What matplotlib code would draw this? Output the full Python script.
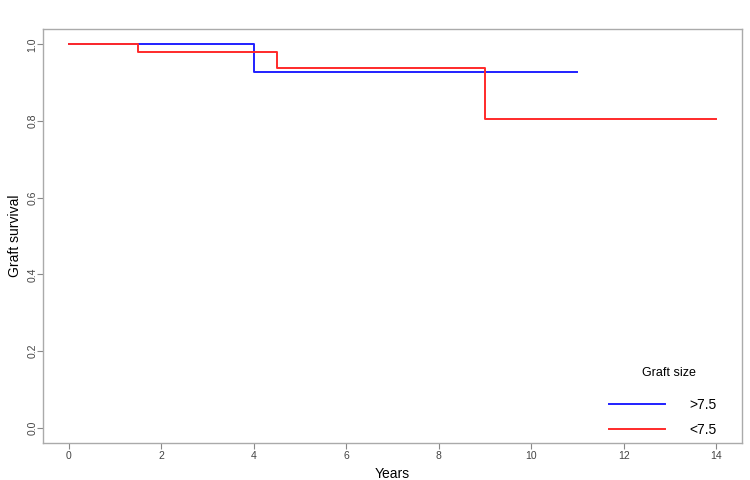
import matplotlib
matplotlib.use("Agg")
import matplotlib.pyplot as plt

plt.rcParams['font.family'] = ['Liberation Sans', 'DejaVu Sans']

# Kaplan-Meier step data
big_times = [0, 4, 11]
big_surv = [1.0, 0.927, 0.927]
small_times = [0, 1.5, 4.5, 9, 14]
small_surv = [1.0, 0.979, 0.937, 0.805, 0.805]
group_labels = ['>7.5', '<7.5']
x_ticks = [0, 2, 4, 6, 8, 10, 12, 14]
y_ticks = [0.0, 0.2, 0.4, 0.6, 0.8, 1.0]

fig = plt.figure(figsize=(7.5, 4.8), dpi=100)
ax = fig.add_axes([43 / 750, 1 - 443 / 480, 699 / 750, 414 / 480])

ax.step(big_times, big_surv, where='post', color='#2020ff', lw=1.4, label=group_labels[0])
ax.step(small_times, small_surv, where='post', color='#ff2a2a', lw=1.4, label=group_labels[1])

ax.set_xlim(-0.56, 14.56)
ax.set_ylim(-0.04, 1.04)
ax.set_xticks(x_ticks)
ax.set_yticks(y_ticks)
ax.set_yticklabels([f'{v:.1f}' for v in y_ticks], rotation=90, va='center')
ax.tick_params(colors='#888888', labelcolor='#444444', labelsize=7.5, length=4, pad=2, direction='out')
ax.tick_params(axis='y', pad=0)
for s in ax.spines.values():
    s.set_color('#aaaaaa')
    s.set_linewidth(1.0)

ax.set_xlabel('Years', fontsize=10)
ax.set_ylabel('Graft survival', fontsize=10)
ax.xaxis.set_label_coords(0.5, -0.058)
ax.yaxis.set_label_coords(-0.030, 0.5)

leg = ax.legend(title='Graft size      \n', frameon=False, fontsize=10, title_fontsize=9,
                loc='lower right', bbox_to_anchor=(0.982, -0.015),
                handlelength=4.0, handletextpad=1.8, labelspacing=0.75)
leg._legend_box.align = 'right'
leg.get_title().set_linespacing(0.65)

fig.savefig('out.png', dpi=100)
